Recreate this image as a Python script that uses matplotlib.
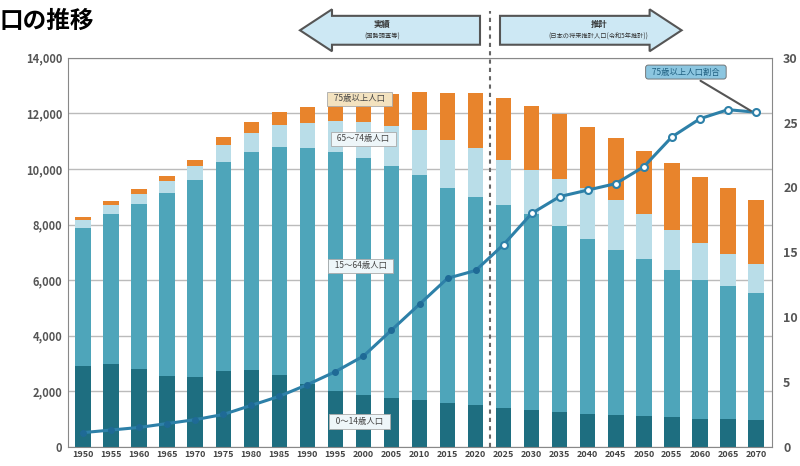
import matplotlib.pyplot as plt
import numpy as np
from matplotlib.patches import FancyArrow

plt.rcParams['font.family'] = ['Noto Sans CJK JP', 'DejaVu Sans']

years = ['1950', '1955', '1960', '1965', '1970', '1975', '1980', '1985', '1990',
         '1995', '2000', '2005', '2010', '2015', '2020', '2025', '2030', '2035',
         '2040', '2045', '2050', '2055', '2060', '2065', '2070']

# 万人
age_0_14 = [2900, 2980, 2810, 2550, 2500, 2720, 2750, 2600, 2250, 2000, 1850, 1750,
            1680, 1590, 1500, 1400, 1320, 1250, 1190, 1140, 1100, 1060, 1020, 990, 950]
age_15_64 = [4970, 5400, 5930, 6590, 7090, 7530, 7870, 8200, 8500, 8620, 8550, 8370,
             8100, 7720, 7500, 7300, 7050, 6700, 6300, 5950, 5650, 5300, 5000, 4800, 4600]
age_65_74 = [310, 340, 375, 430, 510, 600, 690, 770, 890, 1110, 1300, 1410,
             1620, 1730, 1740, 1640, 1600, 1700, 1830, 1800, 1620, 1440, 1300, 1160, 1030]
age_75 = [104, 140, 166, 190, 224, 290, 370, 470, 600, 720, 900, 1170,
          1380, 1680, 1980, 2200, 2296, 2330, 2200, 2210, 2290, 2400, 2400, 2350, 2300]
# 75歳以上人口割合 (%)
ratio_75 = [1.1, 1.3, 1.5, 1.8, 2.1, 2.5, 3.2, 3.9, 4.8, 5.8, 7.0, 9.0, 11.0,
            13.0, 13.6, 15.6, 18.0, 19.3, 19.8, 20.3, 21.6, 23.9, 25.3, 26.0, 25.8]

n_actual = 15

c_dark = '#1e6e80'
c_mid = '#4ea5ba'
c_light = '#b9dde8'
c_orange = '#e8842c'
c_line = '#2d80a8'

fig = plt.figure(figsize=(8, 4.66), dpi=100)
ax = fig.add_axes([0.085, 0.041, 0.88, 0.835])

x = np.arange(len(years))
w = 0.55
b1 = np.array(age_0_14)
b2 = b1 + np.array(age_15_64)
b3 = b2 + np.array(age_65_74)
ax.bar(x, age_0_14, w, color=c_dark, zorder=2)
ax.bar(x, age_15_64, w, bottom=b1, color=c_mid, zorder=2)
ax.bar(x, age_65_74, w, bottom=b2, color=c_light, zorder=2)
ax.bar(x, age_75, w, bottom=b3, color=c_orange, zorder=2)

ax.set_xlim(-0.535, 24.57)
ax.set_ylim(0, 14000)
ax.set_yticks(range(0, 14001, 2000))
ax.set_yticklabels(['0', '2,000', '4,000', '6,000', '8,000', '10,000', '12,000', '14,000'],
                   fontsize=8, fontweight='bold', color='#555555')
ax.yaxis.grid(True, color='#bbbbbb', lw=1, zorder=0)
ax.set_xticks(x)
ax.set_xticklabels(years, fontsize=6.5, fontweight='bold', color='#444444')
ax.tick_params(length=0, pad=4)
ax.tick_params(axis='x', pad=2)
for s in ax.spines.values():
    s.set_color('#888888')

ax2 = ax.twinx()
ax2.set_ylim(0, 30)
ax2.set_yticks(range(0, 31, 5))
ax2.set_yticklabels([str(v) for v in range(0, 31, 5)], fontsize=9,
                    fontweight='bold', color='#555555')
ax2.tick_params(length=0, pad=8)
ax2.plot(x, ratio_75, color=c_line, lw=2.2, zorder=5)
ax2.plot(x[:n_actual], ratio_75[:n_actual], 'o', color='#1f6a96', ms=4, zorder=6)
ax2.plot(x[n_actual:], ratio_75[n_actual:], 'o', mfc='white', mec=c_line, mew=1.5,
         ms=5, zorder=6)
for s in ax2.spines.values():
    s.set_visible(False)

# actual / projection divider
ax.axvline(n_actual - 0.5, color='#666666', lw=1.5, ls=(0, (2, 2)), ymax=1.12,
           clip_on=False, zorder=4)

# arrows on top
def arrow(x0, x1, direction, title, sub):
    y0 = 0.935
    if direction < 0:
        start, dx = x1, -(x1 - x0)
    else:
        start, dx = x0, x1 - x0
    a = FancyArrow(start, y0, dx, 0, width=0.062, head_width=0.09, head_length=0.04,
                   length_includes_head=True, transform=fig.transFigure,
                   fc='#cde8f4', ec='#555555', lw=1.5)
    fig.patches.append(a)
    xm = (x0 + x1) / 2 + 0.01 * direction
    fig.text(xm, y0 + 0.012, title, ha='center', va='center', fontsize=6,
             fontweight='bold', color='#333333')
    fig.text(xm, y0 - 0.014, sub, ha='center', va='center', fontsize=4.5, color='#333333')

arrow(0.375, 0.6, -1, '実績', '(国勢調査等)')
arrow(0.625, 0.852, 1, '推計', '(日本の将来推計人口(令和5年推計))')

fig.text(0.0, 0.955, '口の推移', fontsize=17, fontweight='bold', va='center', ha='left')

# legend labels
def label(xc, y, text, fc):
    ax.text(xc, y, text, ha='center', va='center', fontsize=6, color='#444444',
            bbox=dict(boxstyle='square,pad=0.35', fc=fc, ec='#aaaaaa', lw=0.6), zorder=7)

label(9.85, 12520, '  75歳以上人口  ', '#f3e2bf')
label(10.0, 11080, '  65～74歳人口  ', '#eef6f9')
label(9.9, 6510, '  15～64歳人口  ', '#eef6f9')
label(9.85, 900, '  0～14歳人口  ', '#eef6f9')

ax2.annotate('  75歳以上人口割合  ', xy=(23.9, 25.8), xytext=(21.5, 28.9), ha='center',
             va='center', fontsize=6, color='#1f5f80',
             bbox=dict(boxstyle='round,pad=0.3', fc='#8cc6e0', ec='#666666', lw=0.6),
             arrowprops=dict(arrowstyle='-', color='#555555', lw=1.5), zorder=8)

fig.savefig('out.png', dpi=100)
